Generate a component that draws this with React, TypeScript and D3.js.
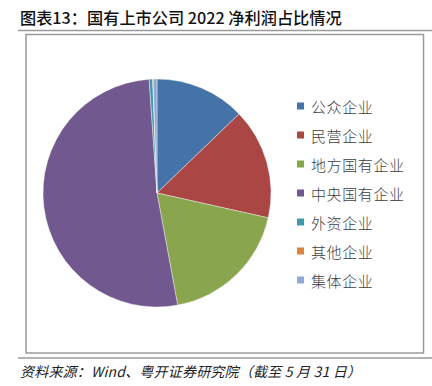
import React from "react";
import * as d3 from "d3";

const categories = ["公众企业", "民营企业", "地方国有企业", "中央国有企业", "外资企业", "其他企业", "集体企业"];
const values = [12.8, 15.7, 18.6, 51.8, 0.5, 0.05, 0.55];
const colors = ["#4572A7", "#AA4643", "#89A54E", "#71588F", "#4198AF", "#DB843D", "#93A9CF"];
const title = "图表13：国有上市公司 2022 净利润占比情况";
const source = "资料来源：Wind、粤开证券研究院（截至 5 月 31 日）";

export default function App() {
  const W = 432, H = 386;
  const cx = 157, cy = 193, r = 114;
  const pie = d3.pie<number>().sort(null).value((d) => d);
  const arcs = pie(values);
  const arc = d3.arc<d3.PieArcDatum<number>>().innerRadius(0).outerRadius(r);
  const font = "'Noto Sans CJK SC', 'Noto Sans', sans-serif";
  return (
    <svg width={W} height={H} style={{ position: "absolute", left: 0, top: 0, background: "#fff" }}>
      <text x={20} y={24} fontFamily={font} fontWeight={500} fontSize={16.2} fill="#111">{title}</text>
      <line x1={18} x2={432} y1={30.5} y2={30.5} stroke="#9a9a9a" strokeWidth={1.5} />
      <rect x={26} y={34.5} width={397.5} height={318.5} fill="none" stroke="#9a9a9a" strokeWidth={1.5} />
      <g transform={`translate(${cx},${cy})`}>
        {arcs.map((a, i) => (
          <path key={i} d={arc(a) || ""} fill={colors[i]} stroke="#fff" strokeWidth={0.4} />
        ))}
      </g>
      {categories.map((c, i) => {
        const y = 106.5 + i * 29;
        return (
          <g key={c}>
            <rect x={297} y={y - 4} width={7} height={7} fill={colors[i]} />
            <text x={311} y={y} dominantBaseline="central" fontFamily={font} fontWeight={300} fontSize={15} letterSpacing={0.6} fill="#404040">{c}</text>
          </g>
        );
      })}
      <line x1={18} x2={432} y1={358} y2={358} stroke="#9a9a9a" strokeWidth={1.5} />
      <text x={20} y={377} fontFamily={font} fontStyle="italic" fontSize={14} letterSpacing={0.2} fill="#222">{source}</text>
    </svg>
  );
}
